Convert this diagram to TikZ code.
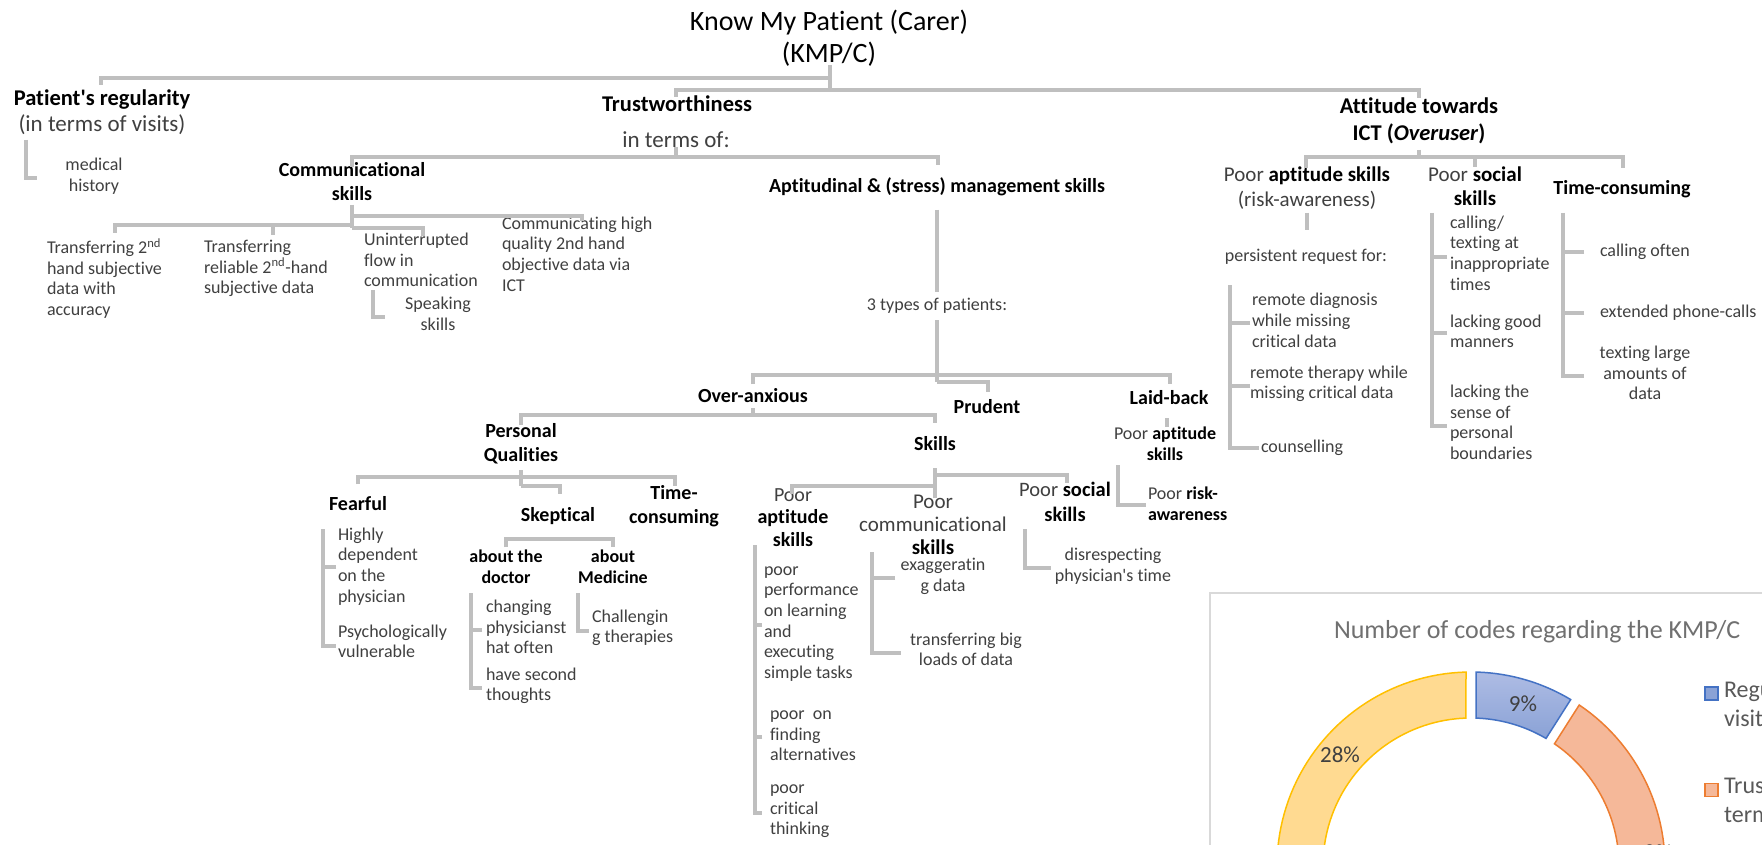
\documentclass[tikz,border=0pt]{standalone}
\usepackage{fontspec}
\setmainfont{Carlito}[Ligatures={CommonOff,TeXOff}]
\definecolor{linegray}{RGB}{191,191,191}
\definecolor{leafgray}{RGB}{64,64,64}
\definecolor{charttxt}{RGB}{89,89,89}
\definecolor{charttitle}{RGB}{112,112,112}
\definecolor{chartframe}{RGB}{217,217,217}
\definecolor{segblue}{RGB}{68,114,196}
\definecolor{bluetop}{RGB}{174,188,228}
\definecolor{bluebot}{RGB}{138,162,214}
\definecolor{segorange}{RGB}{237,125,49}
\definecolor{orangefill}{RGB}{245,184,153}
\definecolor{segyellow}{RGB}{255,192,0}
\definecolor{yellowfill}{RGB}{255,218,145}
\newcommand\strongpart[1]{{\color{black}\bfseries #1}}
% one piece of the doughnut: outer arc #1->#2, inner arc #3->#4 (degrees, counter-clockwise)
\newcommand\ringseg[5]{%
  \path[#5] plot[domain=0:1,samples=48,variable=\ang]
      ({1471+194*cos(#1+(#2-(#1))*\ang)},{866-194*sin(#1+(#2-(#1))*\ang)})
    -- plot[domain=0:1,samples=48,variable=\ang]
      ({1471+148*cos(#3+(#4-(#3))*\ang)},{866-148*sin(#3+(#4-(#3))*\ang)})
    -- cycle;}
\tikzset{
  every node/.style={inner sep=0pt, outer sep=0pt},
  txt/.style={execute at begin node=\strut, execute at end node=\strut},
  conn/.style={draw=linegray, line width=3.5pt},
  ttl/.style={txt, font=\fontsize{28}{32}\selectfont, align=center},
  hone/.style={txt, font=\fontsize{22.5}{27}\selectfont\bfseries, align=center},
  htwo/.style={txt, font=\fontsize{20}{23.5}\selectfont\bfseries, align=center},
  hthree/.style={txt, font=\fontsize{18}{21}\selectfont\bfseries, align=center},
  hmix/.style={txt, font=\fontsize{20.5}{24}\selectfont, text=leafgray, align=center},
  subtxt/.style={txt, font=\fontsize{23}{27}\selectfont, text=leafgray, align=center},
  leaf/.style={txt, font=\fontsize{18}{20.7}\selectfont, text=leafgray, align=left, anchor=west},
  leafc/.style={txt, font=\fontsize{18}{20.7}\selectfont, text=leafgray, align=center},
  pct/.style={font=\fontsize{23}{27}\selectfont, text=leafgray},
  legtxt/.style={txt, font=\fontsize{24}{29}\selectfont, text=charttxt, align=left, anchor=west},
}
\begin{document}
\begin{tikzpicture}[x=1pt,y=-1pt]
\useasboundingbox (0,0) rectangle (1762,845);
\clip (0,0) rectangle (1762,845);
\fill[white] (0,0) rectangle (1762,845);

% ---------- text of the hierarchy ----------
\node[ttl] (kmp) at (829,41) {Know My Patient (Carer)\\(KMP/C)};
\node[hone] (reg) at (102,100) {Patient's regularity};
\node[subtxt] (regsub) at (102,126) {(in terms of visits)};
\node[leafc] (medhist) at (94,178) {medical\\history};

\node[hone] (trust) at (677,106) {Trustworthiness};
\node[subtxt] (terms) at (676,142) {in terms of:};
\node[htwo] (comm) at (352,185) {Communicational\\skills};
\node[leaf] (tr1) at (47,280) {Transferring 2\textsuperscript{nd}\\hand subjective\\data with\\accuracy};
\node[leaf] (tr2) at (204,270) {Transferring\\reliable 2\textsuperscript{nd}-hand\\subjective data};
\node[leaf] (flow) at (364,263) {Uninterrupted\\flow in\\communication};
\node[leafc] (speak) at (438,317) {Speaking\\skills};
\node[leaf] (ictq) at (502,257) {Communicating high\\quality 2nd hand\\objective data via\\ICT};

\node[htwo] (aptm) at (937,188) {Aptitudinal \& (stress) management skills};
\node[leafc] (types) at (937,306) {3 types of patients:};
\node[htwo] (over) at (753,398) {Over-anxious};
\node[htwo] (prud) at (987,409) {Prudent};
\node[htwo] (laid) at (1169,400) {Laid-back};

\node[htwo] (pq) at (521,446) {Personal\\Qualities};
\node[htwo] (fear) at (358,506) {Fearful};
\node[htwo] (skep) at (558,517) {Skeptical};
\node[htwo] (tcons) at (674,508) {Time-\\consuming};
\node[hthree] (doc) at (506,570) {about the\\doctor};
\node[hthree] (med) at (613,570) {about\\Medicine};
\node[leaf] (dep) at (338,568) {Highly\\dependent\\on the\\physician};
\node[leaf] (vuln) at (338,644.5) {Psychologically\\vulnerable};
\node[leaf] (chg) at (486,630) {changing\\physicianst\\hat often};
\node[leaf] (second) at (486,687.5) {have second\\thoughts};
\node[leaf] (chal) at (592,629.5) {Challengin\\g therapies};

\node[htwo] (skills) at (935,446) {Skills};
\node[hmix, font=\fontsize{20}{22.5}\selectfont] (pa) at (793,520.5) {Poor\\\strongpart{aptitude}\\\strongpart{skills}};
\node[hmix, font=\fontsize{21}{23}\selectfont] (pc) at (933,528) {Poor\\communicational\\\strongpart{skills}};
\node[hmix, font=\fontsize{20.5}{25}\selectfont] (ps) at (1065,505.5) {Poor \strongpart{social}\\\strongpart{skills}};
\node[leaf] (perf) at (764,625.5) {poor\\performance\\on learning\\and\\executing\\simple tasks};
\node[leaf] (alt) at (770,739) {poor~ on\\finding\\alternatives};
\node[leaf] (crit) at (770,813) {poor\\critical\\thinking};
\node[leafc] (exag) at (943,578) {exaggeratin\\g data};
\node[leafc] (loads) at (966,652.5) {transferring big\\loads of data};
\node[leafc] (disr) at (1113,568) {disrespecting\\physician's time};
\node[leafc] (lapt) at (1165,447) {Poor \strongpart{aptitude}\\\strongpart{skills}};
\node[leaf] (lrisk) at (1148,506.5) {Poor \strongpart{risk-}\\\strongpart{awareness}};

\node[hone] (att) at (1419,123.5) {Attitude towards\\ICT (\textit{Overuser})};
\node[hmix, font=\fontsize{21}{25}\selectfont] (ppa) at (1307,190.5) {Poor \strongpart{aptitude skills}\\(risk-awareness)};
\node[leafc] (persist) at (1306,257) {persistent request for:};
\node[leaf] (rdiag) at (1252,323.5) {remote diagnosis\\while missing\\critical data};
\node[leaf] (rther) at (1250,385.5) {remote therapy while\\missing critical data};
\node[leaf] (couns) at (1261,448) {counselling};
\node[hmix, font=\fontsize{21}{24}\selectfont] (pso) at (1475,190) {Poor \strongpart{social}\\\strongpart{skills}};
\node[leaf] (inapp) at (1450,256) {calling/\\texting at\\inappropriate\\times};
\node[leaf] (manners) at (1450,334.5) {lacking good\\manners};
\node[leaf] (bound) at (1450,425.5) {lacking the\\sense of\\personal\\boundaries};
\node[htwo] (tco) at (1622,190) {Time-consuming};
\node[leaf] (often) at (1600,252) {calling often};
\node[leaf] (ext) at (1600,313) {extended phone-calls};
\node[leafc] (large) at (1645,376) {texting large\\amounts of\\data};

% ---------- connector points ----------
\coordinate (kmpS) at (830,65);   \coordinate (busA) at (830,78);  \coordinate (busB) at (830,90);
\coordinate (regN) at (101,85);   \coordinate (trustN) at (676,97); \coordinate (attN) at (1419,98);
\coordinate (mhA) at (26,140);    \coordinate (mhB) at (37,178);
\coordinate (termsS) at (676,147); \coordinate (termsJ) at (676,157);
\coordinate (commN) at (352,167); \coordinate (aptN) at (938,165);
\coordinate (commS) at (352,205); \coordinate (commR) at (352,216);
\coordinate (commL) at (352,225); \coordinate (commJ) at (352,228);
\coordinate (tr1N) at (115,233);  \coordinate (tr2N) at (273,235);
\coordinate (flowN) at (423,236); \coordinate (ictqN) at (582,221);
\coordinate (spA) at (373,290);   \coordinate (spB) at (385,317);
\coordinate (aptS) at (937,210);  \coordinate (aptE) at (937,292);
\coordinate (typS) at (937,320);  \coordinate (typJ) at (937,375); \coordinate (typK) at (937,382);
\coordinate (overN) at (753,384); \coordinate (laidN) at (1170,384); \coordinate (prudN) at (988,392);
\coordinate (overS) at (753,408); \coordinate (overJ) at (753,415);
\coordinate (pqN) at (521,425);   \coordinate (skN) at (935,423);
\coordinate (pqS) at (521,470);   \coordinate (pqJ) at (521,477); \coordinate (pqK) at (521,486);
\coordinate (fearN) at (358,484); \coordinate (tconsN) at (675,486); \coordinate (skepN) at (560,494);
\coordinate (docN) at (506,547);  \coordinate (medN) at (613,547); \coordinate (skepJ) at (560,539);
\coordinate (feA) at (323,529);   \coordinate (feB) at (336,646);  \coordinate (feM) at (336,567);
\coordinate (doA) at (471,593);   \coordinate (doB) at (482,688);  \coordinate (doM) at (482,630);
\coordinate (meA) at (578,593);   \coordinate (meB) at (589,631);
\coordinate (skS) at (935,468);   \coordinate (skJ) at (935,475); \coordinate (skK) at (935,486); \coordinate (skE) at (935,498);
\coordinate (paN) at (792,494);   \coordinate (psN) at (1067,483);
\coordinate (paA) at (755,545);   \coordinate (paB) at (762,813); \coordinate (paM1) at (762,625); \coordinate (paM2) at (762,737);
\coordinate (pcA) at (872,552);   \coordinate (pcB) at (901,653); \coordinate (pcM) at (895,578);
\coordinate (psA) at (1025,529);  \coordinate (psB) at (1051,568);
\coordinate (laidS) at (1167,418); \coordinate (laidE) at (1167,427);
\coordinate (lbA) at (1118,465);  \coordinate (lbB) at (1146,505);
\coordinate (attS) at (1419,150); \coordinate (attJ) at (1419,157);
\coordinate (ppaN) at (1306,168); \coordinate (psoN) at (1475,167); \coordinate (tcoN) at (1623,168);
\coordinate (ppaS) at (1307,213); \coordinate (ppaE) at (1307,230);
\coordinate (prA) at (1230,285);  \coordinate (prB) at (1259,448); \coordinate (prM1) at (1250,323); \coordinate (prM2) at (1250,386);
\coordinate (soA) at (1432,213);  \coordinate (soB) at (1447,426); \coordinate (soM1) at (1447,257); \coordinate (soM2) at (1447,333);
\coordinate (tcA) at (1563,213);  \coordinate (tcB) at (1584,376); \coordinate (tcM1) at (1584,252); \coordinate (tcM2) at (1584,313);

% ---------- connectors ----------
\draw[conn] (kmpS) -- (busB);
\draw[conn] (regN) |- (busA);
\draw[conn] (trustN) |- (busB) -| (attN);
\draw[conn] (mhA) |- (mhB);
\draw[conn] (termsS) -- (termsJ);
\draw[conn] (commN) |- (termsJ) -| (aptN);
\draw[conn] (commS) -- (commJ);
\draw[conn] (tr1N) |- (commL);
\draw[conn] (tr2N) -- (tr2N |- commL);
\draw[conn] (commJ) -| (flowN);
\draw[conn] (commR) -| (ictqN);
\draw[conn] (spA) |- (spB);
\draw[conn] (aptS) -- (aptE);
\draw[conn] (typS) -- (typK);
\draw[conn] (overN) |- (typJ) -| (laidN);
\draw[conn] (typK) -| (prudN);
\draw[conn] (overS) -- (overJ);
\draw[conn] (pqN) |- (overJ) -| (skN);
\draw[conn] (pqS) -- (pqK);
\draw[conn] (fearN) |- (pqJ) -| (tconsN);
\draw[conn] (pqK) -| (skepN);
\draw[conn] (docN) |- (skepJ) -| (medN);
\draw[conn] (feA) |- (feB);  \draw[conn] (feM) -- (feM -| feA);
\draw[conn] (doA) |- (doB);  \draw[conn] (doM) -- (doM -| doA);
\draw[conn] (meA) |- (meB);
\draw[conn] (skS) -- (skE);
\draw[conn] (paN) |- (skK);
\draw[conn] (skJ) -| (psN);
\draw[conn] (paA) |- (paB); \draw[conn] (paM1) -- (paM1 -| paA); \draw[conn] (paM2) -- (paM2 -| paA);
\draw[conn] (pcA) |- (pcB); \draw[conn] (pcM) -- (pcM -| pcA);
\draw[conn] (psA) |- (psB);
\draw[conn] (laidS) -- (laidE);
\draw[conn] (lbA) |- (lbB);
\draw[conn] (attS) -- (attJ);
\draw[conn] (ppaN) |- (attJ) -| (tcoN);
\draw[conn] (psoN) -- (psoN |- attJ);
\draw[conn] (ppaS) -- (ppaE);
\draw[conn] (prA) |- (prB); \draw[conn] (prM1) -- (prM1 -| prA); \draw[conn] (prM2) -- (prM2 -| prA);
\draw[conn] (soA) |- (soB); \draw[conn] (soM1) -- (soM1 -| soA); \draw[conn] (soM2) -- (soM2 -| soA);
\draw[conn] (tcA) |- (tcB); \draw[conn] (tcM1) -- (tcM1 -| tcA); \draw[conn] (tcM2) -- (tcM2 -| tcA);

% ---------- doughnut chart ----------
\draw[chartframe, line width=1.5pt] (1210,593) rectangle (1800,900);
\node[txt, font=\fontsize{26}{30}\selectfont, text=charttitle, anchor=west] (ctitle) at (1334,632) {Number of codes regarding the KMP/C};
\ringseg{59.08}{88.52}{88.06}{59.54}{draw=segblue, line width=1.5pt, top color=bluetop, bottom color=bluebot}
\ringseg{-41.72}{56.12}{55.66}{-41.26}{draw=segorange, line width=1.5pt, fill=orangefill}
\ringseg{91.48}{189.32}{188.86}{91.94}{draw=segyellow, line width=1.5pt, fill=yellowfill}
\node[pct] (p9) at (1523,704) {9\%};
\node[pct] (p28a) at (1340,755) {28\%};
\node[pct] (p28b) at (1652,853) {28\%};
\node[draw=segblue, line width=1.5pt, fill=bluebot, minimum size=13pt] (lgb) at (1711.5,693.5) {};
\node[draw=segorange, line width=1.5pt, fill=orangefill, minimum size=13pt] (lgo) at (1711.5,790) {};
\node[legtxt] (lgbt) at (1724,707.5) {Regularity (in terms of\\visits)};
\node[legtxt] (lgot) at (1724,803.5) {Trustworthiness (in\\terms of)};
\end{tikzpicture}
\end{document}
